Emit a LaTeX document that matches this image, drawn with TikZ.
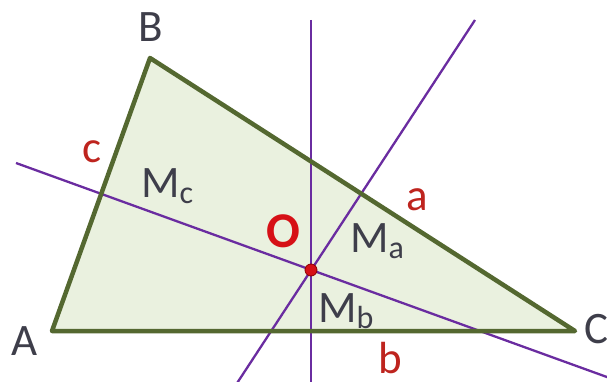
\documentclass[tikz,border=0pt]{standalone}
\usepackage{fontspec}
\setmainfont{Carlito}
\usepackage{tikz}
\usetikzlibrary{positioning}

\definecolor{sidegreen}{RGB}{84,104,48}
\definecolor{fillgreen}{RGB}{234,241,223}
\definecolor{bisecpurple}{RGB}{106,44,160}
\definecolor{labgray}{RGB}{62,62,74}
\definecolor{labred}{RGB}{190,36,30}
\definecolor{centred}{RGB}{214,16,22}

\newcommand{\msub}[1]{\raisebox{-0.14em}{\fontsize{32}{32}\selectfont #1}}

\begin{document}
\begin{tikzpicture}[
  x=1pt, y=-1pt,
  side/.style={line width=4.5pt, sidegreen, line join=round},
  bisec/.style={line width=2.3pt, bisecpurple},
  vlab/.style={font=\fontsize{45}{45}\selectfont, text=labgray, inner sep=0pt, anchor=base},
  mlab/.style={font=\fontsize{45}{45}\selectfont, text=labgray, inner sep=0pt, anchor=base west},
  slab/.style={font=\fontsize{45}{45}\selectfont, text=labred, inner sep=0pt, anchor=base},
  olab/.style={font=\fontsize{50}{50}\selectfont\bfseries, text=centred, inner sep=0pt, anchor=base},
  dot/.style={circle, fill=centred, draw=red!55!black, line width=0.8pt, minimum size=12pt, inner sep=0pt}
]
  \clip (0,0) rectangle (607,382);

  % --- triangle corners and circumcentre --------------------------------
  \coordinate (A) at (52,331);
  \coordinate (B) at (150,58);
  \coordinate (C) at (575,331);
  \coordinate (O) at (311,270);

  % --- ends of the perpendicular bisectors -------------------------------
  \coordinate (pbTop) at (311,20);
  \coordinate (pbBot) at (311,400);
  \coordinate (paTop) at (475,20);
  \coordinate (paBot) at (226,400);
  \coordinate (pcL) at (16,163);
  \coordinate (pcR) at (640,389);

  \fill[fillgreen] (A) -- (B) -- (C) -- cycle;

  \draw[bisec] (pbTop) -- (pbBot);
  \draw[bisec] (paTop) -- (paBot);
  \draw[bisec] (pcL) -- (pcR);

  \draw[side] (A) -- (B) -- (C) -- cycle;

  \node[dot] (Odot) at (O) {};

  % --- labels ------------------------------------------------------------
  \node[vlab] (labA) at (25,355) {A};
  \node[vlab] (labB) at (151,42) {B};
  \node[vlab] (labC) at (596,343) {C};

  \node[slab] (laba) at (417,210) {a};
  \node[slab] (labb) at (390,373) {b};
  \node[slab] (labc) at (92,163) {c};

  \node[mlab] (labMa) at (350,252) {M\msub{a}};
  \node[mlab] (labMb) at (318,322) {M\msub{b}};
  \node[mlab] (labMc) at (141,197) {M\msub{c}};

  \node[olab] (labO) at (283,247) {O};
\end{tikzpicture}
\end{document}
